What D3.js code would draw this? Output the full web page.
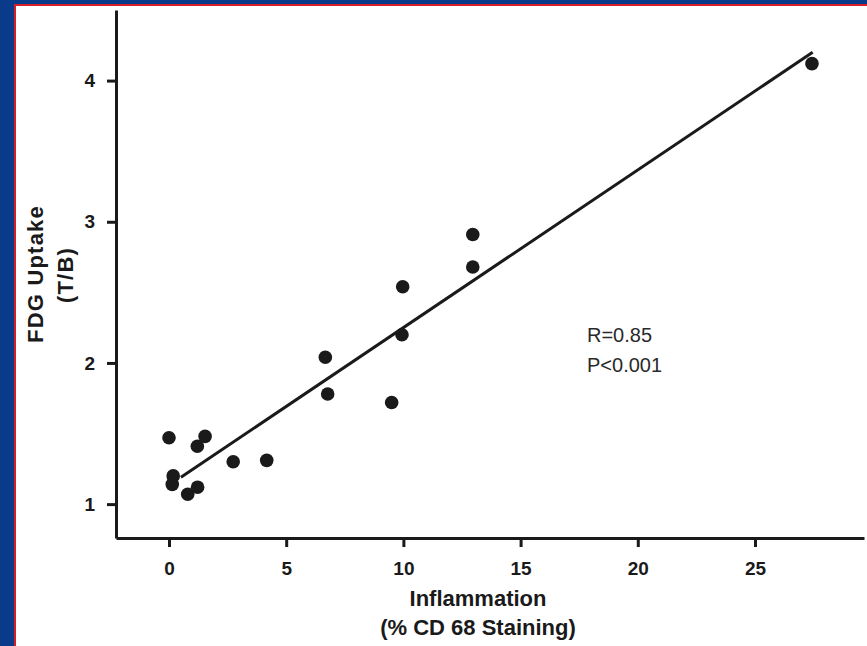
<!DOCTYPE html>
<html>
<head>
<meta charset="utf-8">
<script src="https://cdn.jsdelivr.net/npm/d3@7"></script>
<style>
  html, body { margin: 0; padding: 0; background: #fff; }
  svg { display: block; }
</style>
</head>
<body>
<svg id="chart"></svg>
<script>
// values
const inflammation = [0.0, 1.54, 1.21, 2.74, 4.17, 0.18, 0.14, 0.80, 1.22, 6.67, 6.77, 9.50, 9.94, 9.97, 12.96, 12.96, 27.43];
const fdgUptake    = [1.47, 1.48, 1.41, 1.30, 1.31, 1.20, 1.14, 1.07, 1.12, 2.04, 1.78, 1.72, 2.20, 2.54, 2.68, 2.91, 4.12];
const xTicks = [0, 5, 10, 15, 20, 25];
const yTicks = [1, 2, 3, 4];
const fitSlope = 0.1117;
const fitIntercept = 1.133;
const fitRange = [0.51, 27.46];
const statLines = ["R=0.85", "P<0.001"];

const width = 867, height = 646;
const svg = d3.select('#chart').attr('width', width).attr('height', height);

// blue frame with red inner line (left + top only)
svg.append('rect').attr('x', 0).attr('y', 0).attr('width', width).attr('height', height).attr('fill', '#0a3a8a');
svg.append('rect').attr('x', 14).attr('y', 4).attr('width', width - 14).attr('height', height - 4).attr('fill', '#d41f2b');
svg.append('rect').attr('x', 16).attr('y', 6).attr('width', width - 16).attr('height', height - 6).attr('fill', '#ffffff');

const x = d3.scaleLinear().domain([-2.26, 29.65]).range([116, 864]);
const y = d3.scaleLinear().domain([0.76, 4.5]).range([538, 10]);

const ink = '#1a1a1a';
const tickFont = 'bold 19px "Liberation Sans", Arial, sans-serif';

// axes
const xAxis = d3.axisBottom(x).tickValues(xTicks).tickFormat(d3.format('d'))
  .tickSize(9).tickSizeOuter(0).tickPadding(11);
const yAxis = d3.axisLeft(y).tickValues(yTicks).tickFormat(d3.format('d'))
  .tickSize(9).tickSizeOuter(0).tickPadding(12);

const xAxisG = svg.append('g').attr('transform', `translate(0,${y.range()[0]})`).call(xAxis);
const yAxisG = svg.append('g').attr('transform', `translate(${x.range()[0]},0)`).call(yAxis);

[xAxisG, yAxisG].forEach(g => {
  g.select('.domain').attr('stroke', ink).attr('stroke-width', 3);
  g.selectAll('.tick line').attr('stroke', ink).attr('stroke-width', 3);
  g.selectAll('.tick text').attr('fill', ink).style('font', tickFont);
});
xAxisG.selectAll('.tick text').attr('dy', '0.9em');

// regression line
svg.append('line')
  .attr('x1', x(fitRange[0])).attr('y1', y(fitIntercept + fitSlope * fitRange[0]))
  .attr('x2', x(fitRange[1])).attr('y2', y(fitIntercept + fitSlope * fitRange[1]))
  .attr('stroke', ink).attr('stroke-width', 3);

// points
svg.append('g').selectAll('circle')
  .data(inflammation.map((v, i) => ({ x: v, y: fdgUptake[i] })))
  .join('circle')
  .attr('cx', d => x(d.x))
  .attr('cy', d => y(d.y))
  .attr('r', 6.8)
  .attr('fill', ink);

// stats annotation
svg.append('g').selectAll('text')
  .data(statLines)
  .join('text')
  .attr('x', 587)
  .attr('y', (d, i) => 342 + i * 30)
  .attr('fill', '#2a2a2a')
  .style('font', '20px "Liberation Sans", Arial, sans-serif')
  .text(d => d);

// axis titles
const titleFont = 'bold 22px "Liberation Sans", Arial, sans-serif';
svg.append('text').attr('x', 478).attr('y', 606).attr('text-anchor', 'middle')
  .attr('fill', ink).style('font', titleFont).text('Inflammation');
svg.append('text').attr('x', 478).attr('y', 635).attr('text-anchor', 'middle')
  .attr('fill', ink).style('font', titleFont).text('(% CD 68 Staining)');

svg.append('text').attr('transform', 'translate(43,274) rotate(-90)').attr('text-anchor', 'middle')
  .attr('fill', ink).style('font', titleFont).style('letter-spacing', '1.2px').text('FDG Uptake');
svg.append('text').attr('transform', 'translate(73,275) rotate(-90)').attr('text-anchor', 'middle')
  .attr('fill', ink).style('font', titleFont).style('letter-spacing', '1.2px').text('(T/B)');
</script>
</body>
</html>
